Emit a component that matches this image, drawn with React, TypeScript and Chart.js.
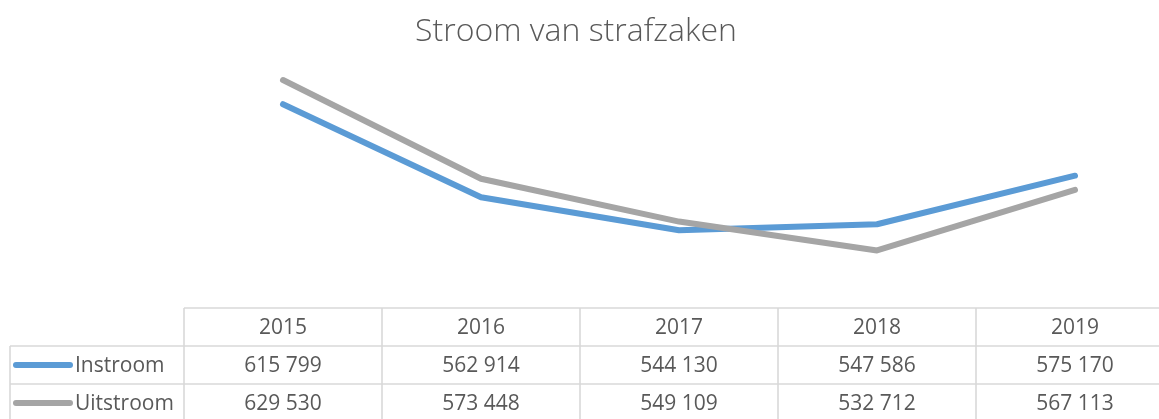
import React, { useEffect, useRef } from "react";
import { Chart, registerables } from "chart.js";

Chart.register(...registerables);

const title = "Stroom van strafzaken";
const years = ["2015", "2016", "2017", "2018", "2019"];
const seriesNames = ["Instroom", "Uitstroom"];
const instroom = [615799, 562914, 544130, 547586, 575170];
const uitstroom = [629530, 573448, 549109, 532712, 567113];
const yMin = 500000;
const yMax = 650000;

const BLUE = "#5B9BD5";
const GRAY = "#A5A5A5";
const TEXT = "#595959";
const GRID = "#D9D9D9";
const FONT = "'Open Sans', 'Liberation Sans', sans-serif";

const CANVAS_W = 1180;
const CANVAS_H = 419;

function fmt(n: number): string {
  return String(n).replace(/\B(?=(\d{3})+(?!\d))/g, " ");
}

const tablePlugin = {
  id: "dataTable",
  afterDraw(chart: any) {
    const ctx = chart.ctx as CanvasRenderingContext2D;
    const xs = chart.scales.x;
    const area = chart.chartArea;
    const n = years.length;
    const colW = (area.right - area.left) / n;
    const top = area.bottom;
    const rowH = 38;
    const rows = [top, top + rowH, top + 2 * rowH, top + 3 * rowH];
    const leftEdge = 10;
    const rightEdge = CANVAS_W;

    ctx.save();
    // title
    ctx.fillStyle = TEXT;
    ctx.font = `300 32px ${FONT}`;
    ctx.textAlign = "center";
    ctx.textBaseline = "alphabetic";
    ctx.fillText(title, 576, 41);

    // grid
    ctx.strokeStyle = GRID;
    ctx.lineWidth = 1.6;
    ctx.beginPath();
    ctx.moveTo(area.left, rows[0]);
    ctx.lineTo(rightEdge, rows[0]);
    for (let r = 1; r < rows.length; r++) {
      ctx.moveTo(leftEdge, rows[r]);
      ctx.lineTo(rightEdge, rows[r]);
    }
    ctx.moveTo(leftEdge, rows[1]);
    ctx.lineTo(leftEdge, rows[3]);
    for (let i = 0; i <= n; i++) {
      const x = area.left + i * colW;
      ctx.moveTo(x, rows[0]);
      ctx.lineTo(x, rows[3]);
    }
    ctx.stroke();

    // header
    ctx.fillStyle = TEXT;
    ctx.font = `21px ${FONT}`;
    ctx.textAlign = "center";
    ctx.textBaseline = "middle";
    years.forEach((y, i) => {
      ctx.fillText(y, xs.getPixelForValue(i), (rows[0] + rows[1]) / 2 + 1);
    });
    const seriesData = [instroom, uitstroom];
    const colors = [BLUE, GRAY];
    seriesData.forEach((vals, s) => {
      const cy = (rows[s + 1] + rows[s + 2]) / 2 + 1;
      vals.forEach((v, i) => {
        ctx.fillText(fmt(v), xs.getPixelForValue(i), cy);
      });
      // legend key
      ctx.strokeStyle = colors[s];
      ctx.lineWidth = 6;
      ctx.lineCap = "round";
      ctx.beginPath();
      ctx.moveTo(16, cy - 1);
      ctx.lineTo(70, cy - 1);
      ctx.stroke();
      ctx.textAlign = "left";
      ctx.fillText(seriesNames[s], 75, cy);
      ctx.textAlign = "center";
    });
    ctx.restore();
  },
};

export default function App() {
  const ref = useRef<HTMLCanvasElement | null>(null);
  useEffect(() => {
    if (!ref.current) return;
    const chart = new Chart(ref.current, {
      type: "line",
      data: {
        labels: years,
        datasets: [
          {
            label: seriesNames[0],
            data: instroom,
            borderColor: BLUE,
            backgroundColor: BLUE,
            borderWidth: 6,
            pointRadius: 0,
            borderCapStyle: "round",
            borderJoinStyle: "round",
            tension: 0,
            order: 1,
          },
          {
            label: seriesNames[1],
            data: uitstroom,
            borderColor: GRAY,
            backgroundColor: GRAY,
            borderWidth: 6,
            pointRadius: 0,
            borderCapStyle: "round",
            borderJoinStyle: "round",
            tension: 0,
            order: 0,
          },
        ],
      },
      options: {
        responsive: false,
        maintainAspectRatio: false,
        animation: false,
        layout: { padding: { left: 184, right: CANVAS_W - 1174, top: 44, bottom: CANVAS_H - 308 } },
        plugins: { legend: { display: false }, title: { display: false }, tooltip: { enabled: false } },
        scales: {
          x: { display: false, offset: true },
          y: { display: false, min: yMin, max: yMax },
        },
      },
      plugins: [tablePlugin],
    });
    return () => chart.destroy();
  }, []);
  return (
    <div style={{ position: "fixed", left: 0, top: 0, width: 1159, height: 419, overflow: "hidden", background: "#fff" }}>
      <canvas ref={ref} width={CANVAS_W} height={CANVAS_H} style={{ width: CANVAS_W, height: CANVAS_H, display: "block" }} />
    </div>
  );
}
